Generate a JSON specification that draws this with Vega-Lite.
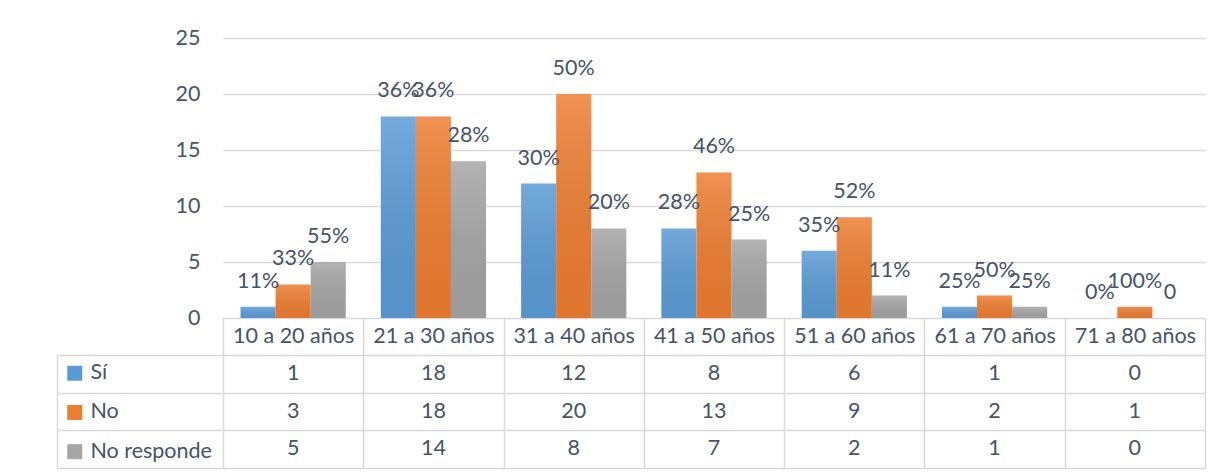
{
  "$schema": "https://vega.github.io/schema/vega-lite/v6.json",
  "padding": {"left": 56, "top": 27, "right": 10, "bottom": 5},
  "background": "white",
  "datasets": {
    "encuesta": [
      {"edad": "10 a 20 años", "respuesta": "Sí", "valor": 1, "pct": "11%"},
      {"edad": "10 a 20 años", "respuesta": "No", "valor": 3, "pct": "33%"},
      {"edad": "10 a 20 años", "respuesta": "No responde", "valor": 5, "pct": "55%"},
      {"edad": "21 a 30 años", "respuesta": "Sí", "valor": 18, "pct": "36%"},
      {"edad": "21 a 30 años", "respuesta": "No", "valor": 18, "pct": "36%"},
      {"edad": "21 a 30 años", "respuesta": "No responde", "valor": 14, "pct": "28%"},
      {"edad": "31 a 40 años", "respuesta": "Sí", "valor": 12, "pct": "30%"},
      {"edad": "31 a 40 años", "respuesta": "No", "valor": 20, "pct": "50%"},
      {"edad": "31 a 40 años", "respuesta": "No responde", "valor": 8, "pct": "20%"},
      {"edad": "41 a 50 años", "respuesta": "Sí", "valor": 8, "pct": "28%"},
      {"edad": "41 a 50 años", "respuesta": "No", "valor": 13, "pct": "46%"},
      {"edad": "41 a 50 años", "respuesta": "No responde", "valor": 7, "pct": "25%"},
      {"edad": "51 a 60 años", "respuesta": "Sí", "valor": 6, "pct": "35%"},
      {"edad": "51 a 60 años", "respuesta": "No", "valor": 9, "pct": "52%"},
      {"edad": "51 a 60 años", "respuesta": "No responde", "valor": 2, "pct": "11%"},
      {"edad": "61 a 70 años", "respuesta": "Sí", "valor": 1, "pct": "25%"},
      {"edad": "61 a 70 años", "respuesta": "No", "valor": 2, "pct": "50%"},
      {"edad": "61 a 70 años", "respuesta": "No responde", "valor": 1, "pct": "25%"},
      {"edad": "71 a 80 años", "respuesta": "Sí", "valor": 0, "pct": "0%"},
      {"edad": "71 a 80 años", "respuesta": "No", "valor": 1, "pct": "100%"},
      {"edad": "71 a 80 años", "respuesta": "No responde", "valor": 0, "pct": "0"}
    ]
  },
  "vconcat": [
    {
      "width": 982,
      "height": 280,
      "data": {"name": "encuesta"},
      "encoding": {
        "x": {
          "field": "edad",
          "type": "nominal",
          "sort": null,
          "scale": {"paddingInner": 0, "paddingOuter": 0},
          "axis": {
            "title": null,
            "orient": "bottom",
            "domain": false,
            "ticks": true,
            "tickBand": "extent",
            "tickSize": 37,
            "tickColor": "#D9D9D9",
            "tickWidth": 1.5,
            "labelAngle": 0,
            "labelFontSize": 21.5,
            "labelColor": "#44546A",
            "labelBaseline": "middle",
            "labelPadding": -19
          }
        },
        "xOffset": {
          "field": "respuesta",
          "type": "nominal",
          "sort": ["Sí", "No", "No responde"],
          "scale": {"domain": ["Sí", "No", "No responde"], "paddingInner": 0, "paddingOuter": 0.5}
        },
        "y": {
          "field": "valor",
          "type": "quantitative",
          "scale": {"domain": [0, 25], "nice": false},
          "axis": {
            "title": null,
            "values": [0, 5, 10, 15, 20, 25],
            "domain": false,
            "ticks": false,
            "grid": true,
            "gridColor": "#D9D9D9",
            "gridWidth": 1.5,
            "labelFontSize": 21.5,
            "labelColor": "#44546A",
            "labelPadding": 23
          }
        }
      },
      "layer": [
        {
          "mark": {"type": "bar"},
          "encoding": {
            "color": {
              "field": "respuesta",
              "type": "nominal",
              "scale": {"domain": ["Sí", "No", "No responde"], "range": ["#5B9BD5", "#ED7D31", "#A5A5A5"]},
              "legend": {
                "orient": "none",
                "legendX": -159,
                "legendY": 324.5,
                "title": null,
                "padding": 0,
                "symbolType": "square",
                "symbolSize": 225,
                "symbolStrokeWidth": 0,
                "symbolOpacity": 1,
                "labelFontSize": 21.5,
                "labelColor": "#44546A",
                "labelOffset": 5,
                "rowPadding": 16.2
              }
            }
          }
        },
        {
          "mark": {
            "type": "bar",
            "color": {
              "gradient": "linear",
              "x1": 0, "y1": 0, "x2": 0, "y2": 1,
              "stops": [
                {"offset": 0, "color": "rgba(255,255,255,0.16)"},
                {"offset": 1, "color": "rgba(0,0,0,0.05)"}
              ]
            }
          }
        },
        {
          "mark": {"type": "text", "baseline": "middle", "align": "center", "dy": -25, "fontSize": 21.5, "color": "#44546A"},
          "encoding": {"text": {"field": "pct", "type": "nominal"}}
        }
      ]
    },
    {
      "width": 982,
      "height": 113,
      "data": {"name": "encuesta"},
      "mark": {"type": "text", "baseline": "middle", "align": "center", "fontSize": 21.5, "color": "#44546A"},
      "encoding": {
        "x": {
          "field": "edad",
          "type": "nominal",
          "sort": null,
          "scale": {"paddingInner": 0, "paddingOuter": 0},
          "axis": {
            "title": null,
            "orient": "top",
            "labels": false,
            "ticks": false,
            "domain": false,
            "grid": true,
            "tickBand": "extent",
            "gridColor": "#D9D9D9",
            "gridWidth": 1.5
          }
        },
        "y": {
          "field": "respuesta",
          "type": "nominal",
          "sort": ["Sí", "No", "No responde"],
          "scale": {"paddingInner": 0, "paddingOuter": 0},
          "axis": {
            "title": null,
            "orient": "left",
            "offset": 166,
            "labels": false,
            "domain": true,
            "domainColor": "#D9D9D9",
            "domainWidth": 1.5,
            "ticks": true,
            "tickBand": "extent",
            "tickSize": -166,
            "tickColor": "#D9D9D9",
            "tickWidth": 1.5,
            "grid": true,
            "gridColor": "#D9D9D9",
            "gridWidth": 1.5
          }
        },
        "text": {"field": "valor", "type": "quantitative"}
      }
    }
  ],
  "spacing": 37,
  "bounds": "flush",
  "config": {
    "font": "Lato",
    "view": {"stroke": null}
  }
}
